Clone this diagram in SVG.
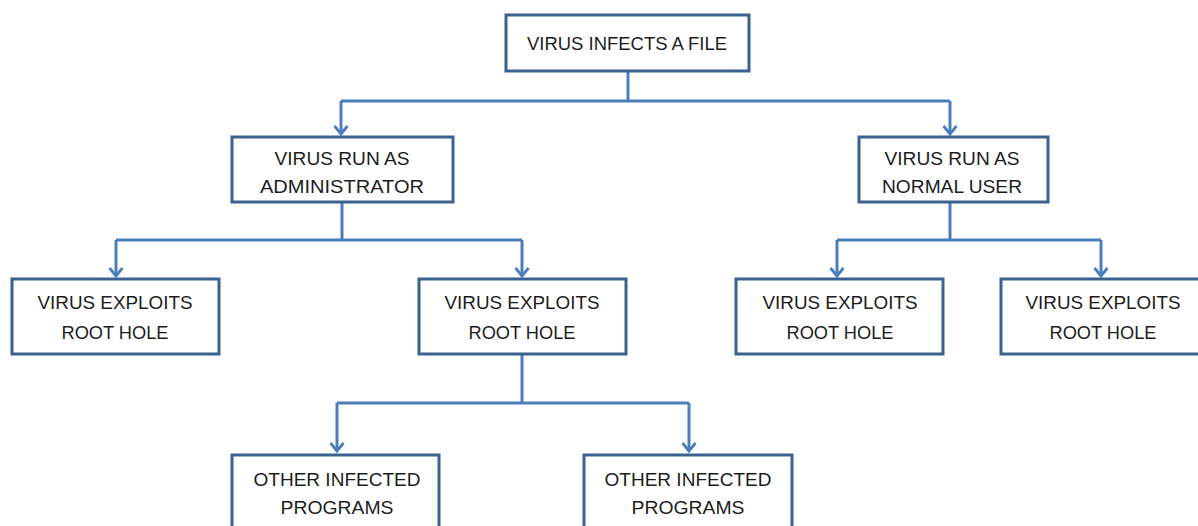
<svg xmlns="http://www.w3.org/2000/svg" width="1198" height="526" viewBox="0 0 1198 526">
<style>
.box{fill:#fff;stroke:#3b6190;stroke-width:3}
.lbl{font-family:"Liberation Sans",Arial,sans-serif;font-size:19px;fill:#1c1c1c;text-anchor:middle}
.con{fill:none;stroke:#4a7ebb;stroke-width:3}
</style>
<defs>
<marker id="arr" markerUnits="userSpaceOnUse" markerWidth="18" markerHeight="18" viewBox="-9 -9 18 18" refX="0" refY="0" orient="auto">
<path d="M-8,-6.5 L0,0 L-8,6.5" fill="none" stroke="#4a7ebb" stroke-width="2.8"/>
</marker>
</defs>
<rect width="1198" height="526" fill="#fff"/>
<g id="connectors">
<path class="con" d="M628,71 V101"/>
<path class="con" d="M341,101 H950"/>
<path class="con" d="M341,101 V134" marker-end="url(#arr)"/>
<path class="con" d="M950,101 V134" marker-end="url(#arr)"/>
<path class="con" d="M342,202 V240"/>
<path class="con" d="M116,240 H522"/>
<path class="con" d="M116,240 V276" marker-end="url(#arr)"/>
<path class="con" d="M522,240 V276" marker-end="url(#arr)"/>
<path class="con" d="M950,202 V240"/>
<path class="con" d="M837,240 H1101"/>
<path class="con" d="M837,240 V276" marker-end="url(#arr)"/>
<path class="con" d="M1101,240 V276" marker-end="url(#arr)"/>
<path class="con" d="M522,354 V403"/>
<path class="con" d="M337,403 H689"/>
<path class="con" d="M337,403 V451" marker-end="url(#arr)"/>
<path class="con" d="M689,403 V451" marker-end="url(#arr)"/>
</g>
<g id="n-root">
<rect class="box" x="506" y="15" width="243" height="56"/>
<text class="lbl" x="627" y="50" textLength="200" lengthAdjust="spacingAndGlyphs">VIRUS INFECTS A FILE</text>
</g>
<g id="n-admin">
<rect class="box" x="232" y="137" width="221" height="65"/>
<text class="lbl" x="342" y="165" textLength="135" lengthAdjust="spacingAndGlyphs">VIRUS RUN AS</text>
<text class="lbl" x="342" y="193" textLength="164" lengthAdjust="spacingAndGlyphs">ADMINISTRATOR</text>
</g>
<g id="n-user">
<rect class="box" x="859" y="137" width="189" height="65"/>
<text class="lbl" x="952" y="165" textLength="135" lengthAdjust="spacingAndGlyphs">VIRUS RUN AS</text>
<text class="lbl" x="952" y="193" textLength="140" lengthAdjust="spacingAndGlyphs">NORMAL USER</text>
</g>
<g id="n-exp1">
<rect class="box" x="12" y="279" width="207" height="75"/>
<text class="lbl" x="115" y="309" textLength="155" lengthAdjust="spacingAndGlyphs">VIRUS EXPLOITS</text>
<text class="lbl" x="115" y="339" textLength="107" lengthAdjust="spacingAndGlyphs">ROOT HOLE</text>
</g>
<g id="n-exp2">
<rect class="box" x="419" y="279" width="207" height="75"/>
<text class="lbl" x="522" y="309" textLength="155" lengthAdjust="spacingAndGlyphs">VIRUS EXPLOITS</text>
<text class="lbl" x="522" y="339" textLength="107" lengthAdjust="spacingAndGlyphs">ROOT HOLE</text>
</g>
<g id="n-exp3">
<rect class="box" x="736" y="279" width="207" height="75"/>
<text class="lbl" x="840" y="309" textLength="155" lengthAdjust="spacingAndGlyphs">VIRUS EXPLOITS</text>
<text class="lbl" x="840" y="339" textLength="107" lengthAdjust="spacingAndGlyphs">ROOT HOLE</text>
</g>
<g id="n-exp4">
<rect class="box" x="1001" y="279" width="207" height="75"/>
<text class="lbl" x="1103" y="309" textLength="155" lengthAdjust="spacingAndGlyphs">VIRUS EXPLOITS</text>
<text class="lbl" x="1103" y="339" textLength="107" lengthAdjust="spacingAndGlyphs">ROOT HOLE</text>
</g>
<g id="n-prog1">
<rect class="box" x="232" y="455" width="207" height="80"/>
<text class="lbl" x="337" y="486" textLength="167" lengthAdjust="spacingAndGlyphs">OTHER INFECTED</text>
<text class="lbl" x="337" y="514" textLength="113" lengthAdjust="spacingAndGlyphs">PROGRAMS</text>
</g>
<g id="n-prog2">
<rect class="box" x="584" y="455" width="208" height="80"/>
<text class="lbl" x="688" y="486" textLength="167" lengthAdjust="spacingAndGlyphs">OTHER INFECTED</text>
<text class="lbl" x="688" y="514" textLength="113" lengthAdjust="spacingAndGlyphs">PROGRAMS</text>
</g>
</svg>
